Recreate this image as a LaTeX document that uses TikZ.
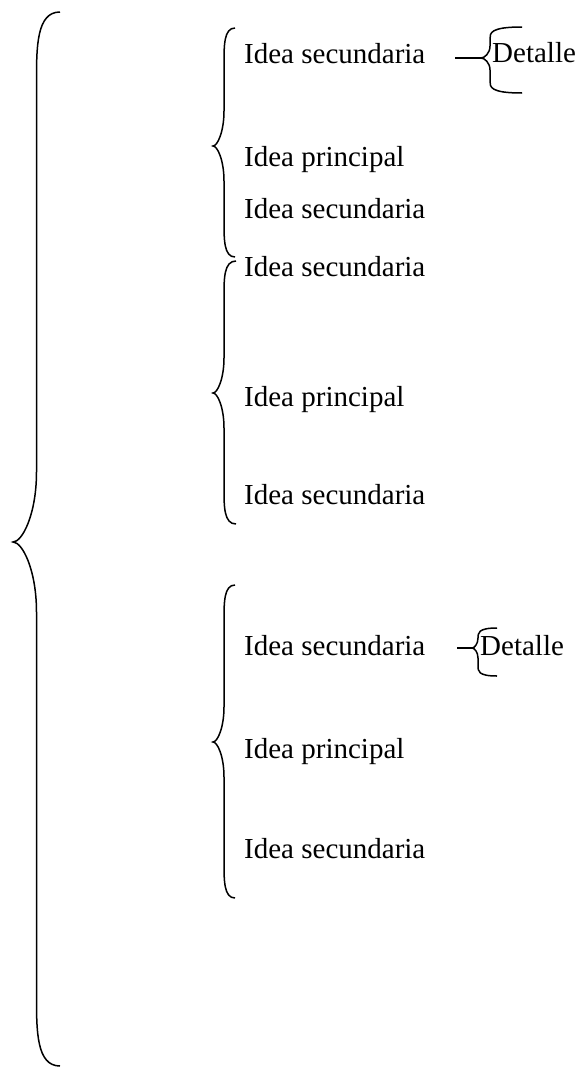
\documentclass[tikz,border=0pt]{standalone}
\usepackage{fontspec}
\setmainfont{Liberation Serif}
\usepackage{tikz}
\usetikzlibrary{positioning}

% llave: xe, xv, xt, ytop, ymid, ybot, h
\newcommand{\llave}[7]{%
  \draw[llavestyle] (#1,#4) .. controls (#2,#4) and (#2,{#4+0.5*#7}) .. (#2,{#4+#7})
    -- (#2,{#5-#7}) .. controls (#2,{#5-0.4*#7}) and ({#3+0.4*(#2-#3)},#5) .. (#3,#5)
    .. controls ({#3+0.4*(#2-#3)},#5) and (#2,{#5+0.4*#7}) .. (#2,{#5+#7})
    -- (#2,{#6-#7}) .. controls (#2,{#6-0.5*#7}) and (#2,#6) .. (#1,#6);}

\tikzset{
  idea/.style={anchor=base west,inner sep=0pt,font=\fontsize{29}{34}\selectfont},
  llavestyle/.style={line width=1.5pt}
}

\begin{document}
\begin{tikzpicture}[x=1pt,y=-1pt]
  \useasboundingbox (0,0) rectangle (581,1068);
  % llave grande
  \llave{60}{36.5}{13}{12}{542}{1066}{70}
  % grupo 1
  \llave{235}{224}{213}{28}{146}{257}{35}
  \node[idea] (sec1a) at (244,63) {Idea secundaria};
  \node[idea] (prin1) at (244,166) {Idea principal};
  \node[idea] (sec1b) at (244,218) {Idea secundaria};
  % grupo 2
  \llave{236}{224}{213}{261}{393}{524}{35}
  \node[idea] (sec2a) at (244,276) {Idea secundaria};
  \node[idea] (prin2) at (244,406) {Idea principal};
  \node[idea] (sec2b) at (244,504) {Idea secundaria};
  % grupo 3
  \llave{235}{224}{213}{585}{742}{898}{35}
  \node[idea] (sec3a) at (244,655) {Idea secundaria};
  \node[idea] (prin3) at (244,758) {Idea principal};
  \node[idea] (sec3b) at (244,858) {Idea secundaria};
  % detalles
  \coordinate (ini1) at (455,58);
  \coordinate (tip1) at (481,58);
  \draw[llavestyle] (ini1) -- (tip1);
  \llave{522}{490}{481}{27}{58}{93}{12}
  \node[idea] (det1) at (492,62) {Detalle};
  \coordinate (ini3) at (457,648);
  \coordinate (tip3) at (472,648);
  \draw[llavestyle] (ini3) -- (tip3);
  \llave{497}{478}{472}{628}{648}{676}{10}
  \node[idea] (det3) at (480,655) {Detalle};
\end{tikzpicture}
\end{document}
